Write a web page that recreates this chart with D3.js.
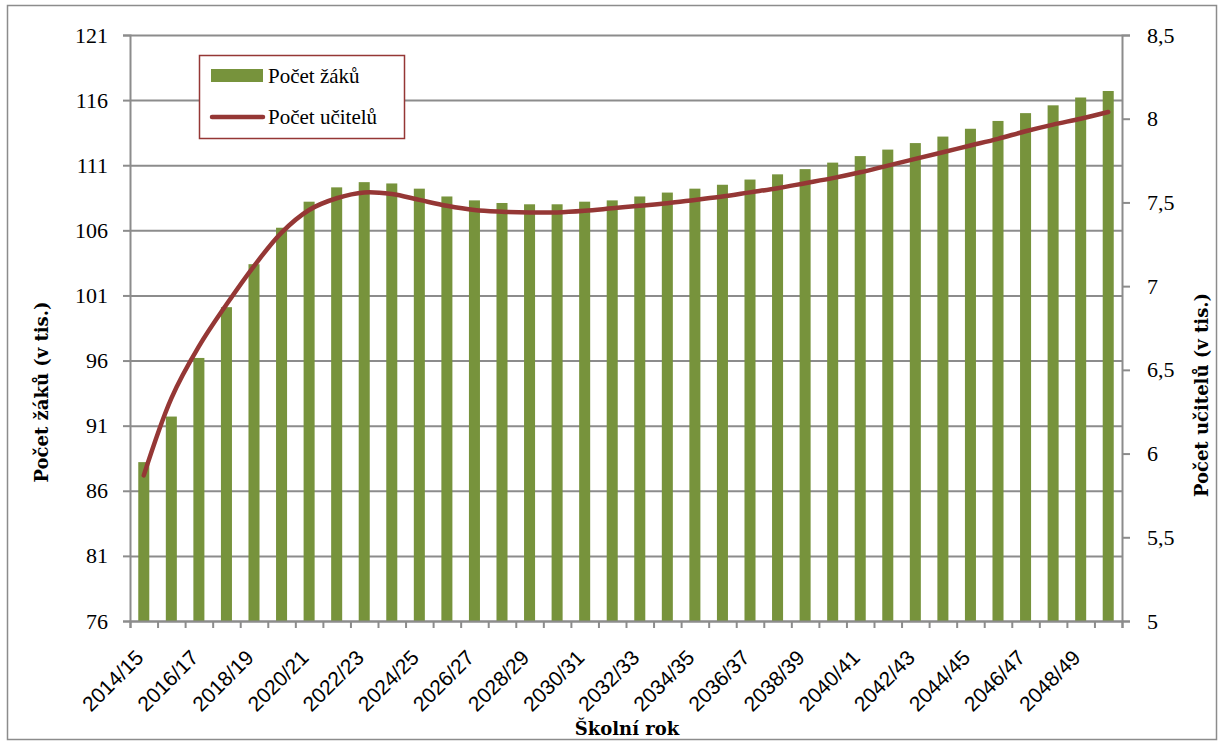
<!DOCTYPE html>
<html>
<head>
<meta charset="utf-8">
<script src="https://cdn.jsdelivr.net/npm/d3@7"></script>
<style>
  body { margin: 0; background: #fff; }
  svg { display: block; }
</style>
</head>
<body>
<div id="chart-container"></div>
<script>
const years = ["2014/15","2015/16","2016/17","2017/18","2018/19","2019/20","2020/21","2021/22","2022/23","2023/24",
  "2024/25","2025/26","2026/27","2027/28","2028/29","2029/30","2030/31","2031/32","2032/33","2033/34",
  "2034/35","2035/36","2036/37","2037/38","2038/39","2039/40","2040/41","2041/42","2042/43","2043/44",
  "2044/45","2045/46","2046/47","2047/48","2048/49","2049/50"];

// Počet žáků (v tis.)
const pupils = [88.2, 91.7, 96.2, 100.1, 103.4, 106.2, 108.2, 109.3, 109.7, 109.6,
  109.2, 108.6, 108.3, 108.1, 108.0, 108.0, 108.2, 108.3, 108.6, 108.9,
  109.2, 109.5, 109.9, 110.3, 110.7, 111.2, 111.7, 112.2, 112.7, 113.2,
  113.8, 114.4, 115.0, 115.6, 116.2, 116.7];

// Počet učitelů (v tis.)
const teachers = [5.87, 6.33, 6.64, 6.89, 7.12, 7.32, 7.455, 7.525, 7.56, 7.55,
  7.515, 7.48, 7.455, 7.445, 7.44, 7.44, 7.45, 7.465, 7.48, 7.495,
  7.515, 7.535, 7.56, 7.585, 7.615, 7.645, 7.68, 7.72, 7.76, 7.80,
  7.84, 7.88, 7.925, 7.965, 8.0, 8.04];

const leftTicks = [76, 81, 86, 91, 96, 101, 106, 111, 116, 121];
const rightTicks = [5, 5.5, 6, 6.5, 7, 7.5, 8, 8.5];
const labelYears = years.filter((y, i) => i % 2 === 0);

const width = 1218, height = 742;
const plot = { left: 130, right: 1122, top: 35, bottom: 621 };
const gridColor = '#8c8c8c';
const barColor = '#77933c';
const lineColor = '#953735';
const serif = '"Liberation Serif", "Times New Roman", serif';
const slab = '"DejaVu Serif", serif';

const svg = d3.select('#chart-container').append('svg')
  .attr('width', width).attr('height', height);

// outer frame
svg.append('rect')
  .attr('x', 7.5).attr('y', 5.5)
  .attr('width', 1209).attr('height', 734)
  .attr('fill', 'none').attr('stroke', gridColor).attr('stroke-width', 1.5);

const x = d3.scaleBand().domain(years).range([plot.left, plot.right]).padding(0);
const xEdge = d3.scaleLinear().domain([0, years.length]).range([plot.left, plot.right]);
const yLeft = d3.scaleLinear().domain([76, 121]).range([plot.bottom, plot.top]);
const yRight = d3.scaleLinear().domain([5, 8.5]).range([plot.bottom, plot.top]);

// gridlines
svg.append('g')
  .attr('transform', `translate(${plot.left},0)`)
  .call(d3.axisLeft(yLeft).tickValues(leftTicks).tickSize(-(plot.right - plot.left)).tickFormat(''))
  .call(g => g.select('.domain').remove())
  .call(g => g.selectAll('line').attr('stroke', gridColor).attr('stroke-width', 2));

// bars
const bw = x.bandwidth();
svg.append('g').selectAll('rect')
  .data(pupils).enter().append('rect')
  .attr('x', (d, i) => x(years[i]) + bw * 0.3)
  .attr('width', bw * 0.4)
  .attr('y', d => yLeft(d))
  .attr('height', d => plot.bottom - yLeft(d))
  .attr('fill', barColor);

// left axis
svg.append('g')
  .attr('transform', `translate(${plot.left},0)`)
  .call(d3.axisLeft(yLeft).tickValues(leftTicks).tickSize(7).tickPadding(15).tickFormat(d3.format('d')))
  .call(g => g.select('.domain').attr('stroke', gridColor).attr('stroke-width', 2))
  .call(g => g.selectAll('line').attr('stroke', gridColor).attr('stroke-width', 2))
  .call(g => g.selectAll('text').style('font-family', serif).style('font-size', '22px').attr('fill', '#000'));

// right axis
svg.append('g')
  .attr('transform', `translate(${plot.right},0)`)
  .call(d3.axisRight(yRight).tickValues(rightTicks).tickSize(8).tickPadding(17)
    .tickFormat(d => String(d).replace('.', ',')))
  .call(g => g.select('.domain').attr('stroke', gridColor).attr('stroke-width', 2))
  .call(g => g.selectAll('line').attr('stroke', gridColor).attr('stroke-width', 2))
  .call(g => g.selectAll('text').style('font-family', serif).style('font-size', '22px').attr('fill', '#000'));

// bottom axis (ticks at band edges)
svg.append('g')
  .attr('transform', `translate(0,${plot.bottom})`)
  .call(d3.axisBottom(xEdge).tickValues(d3.range(0, years.length + 1)).tickSize(7).tickFormat(''))
  .call(g => g.select('.domain').attr('stroke', gridColor).attr('stroke-width', 2))
  .call(g => g.selectAll('line').attr('stroke', gridColor).attr('stroke-width', 2));

// x labels
svg.append('g').selectAll('text')
  .data(labelYears).enter().append('text')
  .attr('transform', d => `translate(${x(d) + bw / 2 + 1},${plot.bottom + 38}) rotate(-45)`)
  .attr('text-anchor', 'end')
  .style('font-family', '"Liberation Sans", Arial, sans-serif')
  .style('font-size', '21px')
  .text(d => d);

// line
const line = d3.line()
  .x((d, i) => x(years[i]) + bw / 2)
  .y(d => yRight(d))
  .curve(d3.curveCatmullRom);

svg.append('path')
  .datum(teachers)
  .attr('d', line)
  .attr('fill', 'none')
  .attr('stroke', lineColor)
  .attr('stroke-width', 4.5)
  .attr('stroke-linecap', 'round');

// axis titles
svg.append('text').text('Počet žáků (v tis.)')
  .style('font-family', slab)
  .attr('font-weight', 'bold').style('font-size', '18px')
  .attr('text-anchor', 'middle')
  .attr('transform', `translate(48,392) rotate(-90)`);

svg.append('text').text('Počet učitelů (v tis.)')
  .style('font-family', slab)
  .attr('font-weight', 'bold').style('font-size', '18px')
  .attr('text-anchor', 'middle')
  .attr('transform', `translate(1208,395) rotate(-90)`);

svg.append('text').text('Školní rok')
  .style('font-family', slab)
  .attr('font-weight', 'bold').style('font-size', '18px')
  .attr('text-anchor', 'middle')
  .attr('x', 627).attr('y', 735);

// legend
const legend = svg.append('g').attr('id', 'legend');
legend.append('rect')
  .attr('x', 199.5).attr('y', 55.5).attr('width', 205).attr('height', 83)
  .attr('fill', '#fff').attr('stroke', lineColor).attr('stroke-width', 1.5);
legend.append('rect')
  .attr('x', 211).attr('y', 69).attr('width', 52).attr('height', 13)
  .attr('fill', barColor);
legend.append('text').text('Počet žáků')
  .style('font-family', serif).style('font-size', '21px')
  .attr('x', 268).attr('y', 83);
legend.append('line')
  .attr('x1', 212).attr('x2', 263).attr('y1', 117).attr('y2', 117)
  .attr('stroke', lineColor).attr('stroke-width', 4.5).attr('stroke-linecap', 'round');
legend.append('text').text('Počet učitelů')
  .style('font-family', serif).style('font-size', '21px')
  .attr('x', 268).attr('y', 124);
</script>
</body>
</html>
